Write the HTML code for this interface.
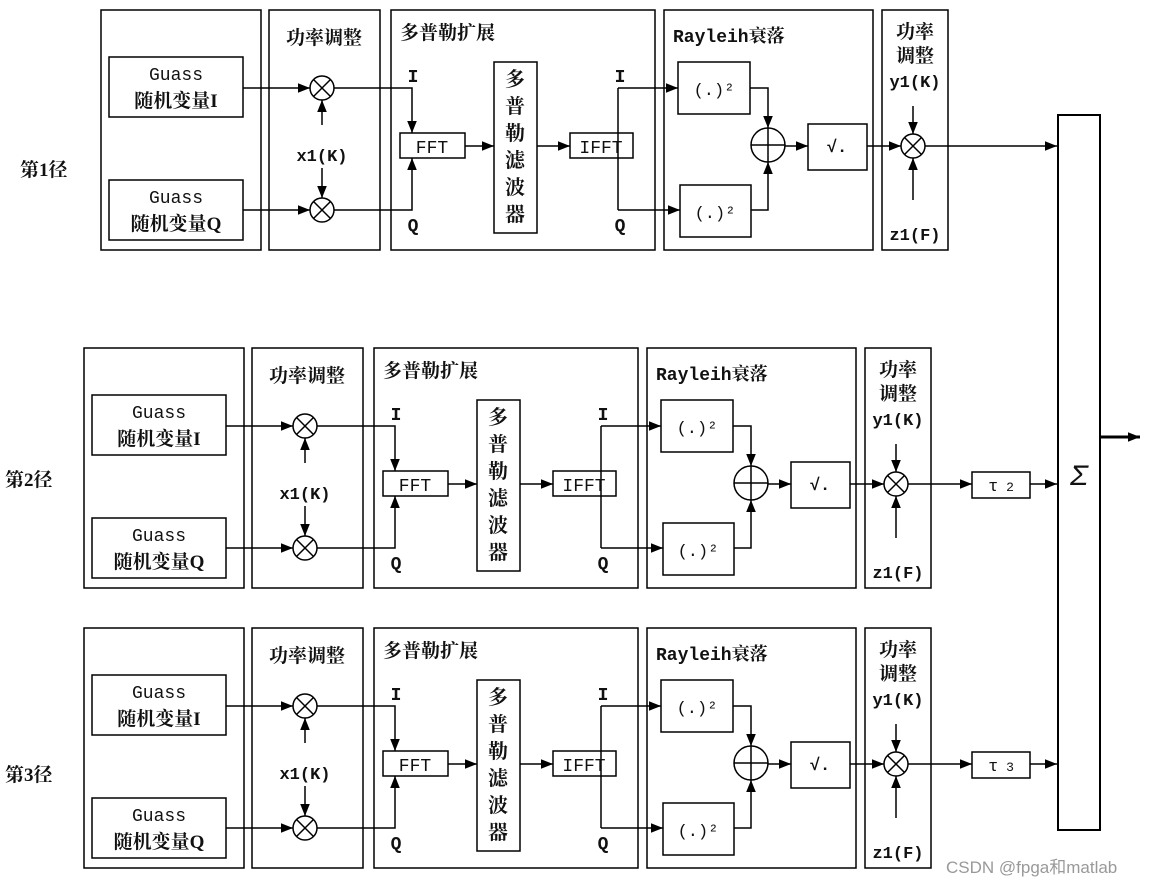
<!DOCTYPE html>
<html><head><meta charset="utf-8"><style>
html,body{margin:0;padding:0;background:#fff;}
svg{display:block;}
text{font-family:"Liberation Mono","Noto Sans CJK SC",monospace;fill:#111;}
.cj{font-family:"Liberation Serif","Noto Serif CJK SC",serif;font-weight:bold;}
</style></head><body>
<svg width="1166" height="887" viewBox="0 0 1166 887" xmlns="http://www.w3.org/2000/svg">
<defs>
<marker id="a" viewBox="0 0 10 10" refX="10" refY="5" markerWidth="9" markerHeight="10" orient="auto" markerUnits="userSpaceOnUse"><path d="M0,0 L10,5 L0,10 z" fill="#000"/></marker>
<marker id="b" viewBox="0 0 10 10" refX="10" refY="5" markerWidth="14" markerHeight="12" orient="auto" markerUnits="userSpaceOnUse"><path d="M0,1 L10,5 L0,9 z" fill="#000"/></marker>
<g id="row" stroke="#000" stroke-width="1.5" fill="none">
  <rect x="101" y="10" width="160" height="240"/>
  <rect x="269" y="10" width="111" height="240"/>
  <rect x="391" y="10" width="264" height="240"/>
  <rect x="664" y="10" width="209" height="240"/>
  <rect x="882" y="10" width="66" height="240"/>
  <rect x="109" y="57" width="134" height="60"/>
  <rect x="109" y="180" width="134" height="60"/>
  <line x1="243" y1="88" x2="310" y2="88" marker-end="url(#b)"/>
  <line x1="243" y1="210" x2="310" y2="210" marker-end="url(#b)"/>
  <circle cx="322" cy="88" r="12"/><path d="M313.5,79.5 L330.5,96.5 M330.5,79.5 L313.5,96.5"/>
  <circle cx="322" cy="210" r="12"/><path d="M313.5,201.5 L330.5,218.5 M330.5,201.5 L313.5,218.5"/>
  <line x1="322" y1="125" x2="322" y2="100" marker-end="url(#b)"/>
  <line x1="322" y1="168" x2="322" y2="198" marker-end="url(#b)"/>
  <polyline points="334,88 412,88 412,133" marker-end="url(#b)"/>
  <polyline points="334,210 412,210 412,158" marker-end="url(#b)"/>
  <rect x="400" y="133" width="65" height="25"/>
  <line x1="465" y1="146" x2="494" y2="146" marker-end="url(#b)"/>
  <rect x="494" y="62" width="43" height="171"/>
  <line x1="537" y1="146" x2="570" y2="146" marker-end="url(#b)"/>
  <rect x="570" y="133" width="63" height="25"/>
  <line x1="618" y1="88" x2="618" y2="210"/>
  <line x1="618" y1="88" x2="678" y2="88" marker-end="url(#b)"/>
  <line x1="618" y1="210" x2="680" y2="210" marker-end="url(#b)"/>
  <rect x="678" y="62" width="72" height="52"/>
  <rect x="680" y="185" width="71" height="52"/>
  <polyline points="750,88 768,88 768,128" marker-end="url(#b)"/>
  <polyline points="751,210 768,210 768,162" marker-end="url(#b)"/>
  <circle cx="768" cy="145" r="17"/><path d="M751,145 L785,145 M768,128 L768,162"/>
  <line x1="785" y1="146" x2="808" y2="146" marker-end="url(#b)"/>
  <rect x="808" y="124" width="59" height="46"/>
  <line x1="867" y1="146" x2="901" y2="146" marker-end="url(#b)"/>
  <circle cx="913" cy="146" r="12"/><path d="M904.5,137.5 L921.5,154.5 M921.5,137.5 L904.5,154.5"/>
  <line x1="913" y1="106" x2="913" y2="134" marker-end="url(#b)"/>
  <line x1="913" y1="200" x2="913" y2="158" marker-end="url(#b)"/>
</g>
<g id="rowt" stroke="none">
  <text x="176" y="80" font-size="18" text-anchor="middle">Guass</text>
  <text x="176" y="107" font-size="19" text-anchor="middle" class="cj">随机变量I</text>
  <text x="176" y="203" font-size="18" text-anchor="middle">Guass</text>
  <text x="176" y="230" font-size="19" text-anchor="middle" class="cj">随机变量Q</text>
  <text x="324" y="44" font-size="19" text-anchor="middle" class="cj">功率调整</text>
  <text x="322" y="161" font-size="17" text-anchor="middle" font-weight="bold">x1(K)</text>
  <text x="400" y="39" font-size="19" class="cj">多普勒扩展</text>
  <text x="413" y="82" font-size="18" text-anchor="middle" font-weight="bold" font-family="Liberation Serif, serif">I</text>
  <text x="413" y="231" font-size="18" text-anchor="middle" font-weight="bold" font-family="Liberation Serif, serif">Q</text>
  <text x="432" y="153" font-size="18" text-anchor="middle" font-family="Liberation Serif, serif">FFT</text>
  <text x="515" y="86" font-size="20" text-anchor="middle" class="cj">多</text>
  <text x="515" y="113" font-size="20" text-anchor="middle" class="cj">普</text>
  <text x="515" y="140" font-size="20" text-anchor="middle" class="cj">勒</text>
  <text x="515" y="167" font-size="20" text-anchor="middle" class="cj">滤</text>
  <text x="515" y="194" font-size="20" text-anchor="middle" class="cj">波</text>
  <text x="515" y="221" font-size="20" text-anchor="middle" class="cj">器</text>
  <text x="601" y="153" font-size="18" text-anchor="middle" font-family="Liberation Serif, serif">IFFT</text>
  <text x="620" y="82" font-size="18" text-anchor="middle" font-weight="bold" font-family="Liberation Serif, serif">I</text>
  <text x="620" y="231" font-size="18" text-anchor="middle" font-weight="bold" font-family="Liberation Serif, serif">Q</text>
  <text x="673" y="42" font-size="18" font-weight="bold" style="font-family:'Liberation Mono','Noto Serif CJK SC',monospace">Rayleih衰落</text>
  <text x="714" y="95" font-size="17" text-anchor="middle">(.)²</text>
  <text x="715" y="218" font-size="17" text-anchor="middle">(.)²</text>
  <text x="837" y="152" font-size="17" text-anchor="middle" font-weight="bold">√.</text>
  <text x="915" y="38" font-size="19" text-anchor="middle" class="cj">功率</text>
  <text x="915" y="62" font-size="19" text-anchor="middle" class="cj">调整</text>
  <text x="915" y="87" font-size="17" text-anchor="middle" font-weight="bold">y1(K)</text>
  <text x="915" y="240" font-size="17" text-anchor="middle" font-weight="bold">z1(F)</text>
</g>
</defs>
<use href="#row"/><use href="#rowt"/>
<line x1="925" y1="146" x2="1057" y2="146" stroke="#000" stroke-width="1.5" marker-end="url(#b)"/>
<g transform="translate(-17,338)">
<use href="#row"/><use href="#rowt"/>
<g stroke="#000" stroke-width="1.5" fill="none">
<line x1="925" y1="146" x2="989" y2="146" marker-end="url(#b)"/>
<rect x="989" y="134" width="58" height="26"/>
<line x1="1047" y1="146" x2="1074" y2="146" marker-end="url(#b)"/>
</g>
<text x="1018" y="153" font-size="17" text-anchor="middle" font-family="Liberation Serif, serif">τ<tspan font-size="13"> 2</tspan></text>
</g>
<g transform="translate(-17,618)">
<use href="#row"/><use href="#rowt"/>
<g stroke="#000" stroke-width="1.5" fill="none">
<line x1="925" y1="146" x2="989" y2="146" marker-end="url(#b)"/>
<rect x="989" y="134" width="58" height="26"/>
<line x1="1047" y1="146" x2="1074" y2="146" marker-end="url(#b)"/>
</g>
<text x="1018" y="153" font-size="17" text-anchor="middle" font-family="Liberation Serif, serif">τ<tspan font-size="13"> 3</tspan></text>
</g>
<rect x="1058" y="115" width="42" height="715" stroke="#000" stroke-width="2" fill="none"/>
<text x="1079" y="485" font-size="30" text-anchor="middle" font-family="Liberation Serif, serif" font-style="italic">Σ</text>
<line x1="1100" y1="437" x2="1140" y2="437" stroke="#000" stroke-width="3" marker-end="url(#b)"/>
<text x="20" y="176" font-size="19" class="cj">第1径</text>
<text x="5" y="486" font-size="19" class="cj">第2径</text>
<text x="5" y="781" font-size="19" class="cj">第3径</text>
<text x="946" y="873" font-size="17" style="font-family:'Liberation Sans','Noto Sans CJK SC',sans-serif;fill:#999">CSDN @fpga和matlab</text>
</svg>
</body></html>
